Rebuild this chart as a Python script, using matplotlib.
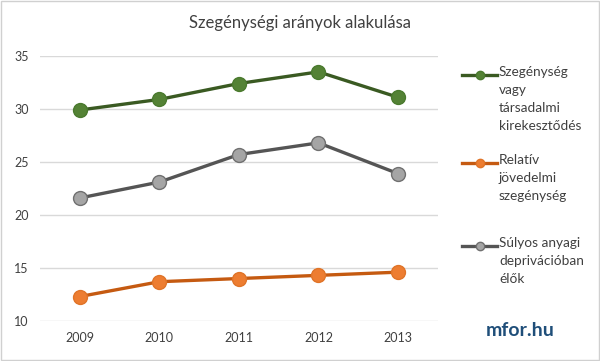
import matplotlib
matplotlib.use("Agg")
import matplotlib.pyplot as plt
from matplotlib.lines import Line2D
from matplotlib.patches import Rectangle

plt.rcParams['font.family'] = ['Lato', 'DejaVu Sans']

years = ["2009", "2010", "2011", "2012", "2013"]
kirekesztodes = [29.9, 30.9, 32.4, 33.5, 31.1]
relativ = [12.3, 13.7, 14.0, 14.3, 14.6]
deprivacio = [21.6, 23.1, 25.7, 26.8, 23.9]

labels = ["Szegénység\nvagy\ntársadalmi\nkirekesztődés",
          "Relatív\njövedelmi\nszegénység",
          "Súlyos anyagi\ndeprivációban\nélők"]

# line colour, marker colour, marker edge
styles = [("#3a5a22", "#548235", "#4a7a2e"),
          ("#c55a11", "#ed7d31", "#e07428"),
          ("#555555", "#a5a5a5", "#707070")]

fig = plt.figure(figsize=(6, 3.61), dpi=100)
ax = fig.add_axes([0.0667, 0.111, 0.663, 0.734])

x = range(len(years))
for vals, (lc, mc, me) in zip([kirekesztodes, relativ, deprivacio], styles):
    ax.plot(x, vals, color=lc, lw=2.4, marker="o", ms=10,
            markerfacecolor=mc, markeredgecolor=me, markeredgewidth=1, zorder=3)

ax.set_xlim(-0.5, 4.5)
ax.set_ylim(10, 35)
ax.set_yticks([10, 15, 20, 25, 30, 35])
ax.set_xticks(list(x))
ax.set_xticklabels(years)
ax.yaxis.grid(True, color="#d9d9d9", lw=1)
ax.set_axisbelow(True)
for s in ax.spines.values():
    s.set_visible(False)
ax.tick_params(length=0, labelsize=9, colors="#404040", pad=8)

fig.text(0.5, 0.935, "Szegénységi arányok alakulása", ha="center", va="center",
         fontsize=12, color="#404040")

# legend drawn by hand, handle next to first line of each label
tops = [75, 163, 246]
for lab, (lc, mc, me), ty in zip(labels, styles, tops):
    yf = 1 - ty / 361
    fig.add_artist(Line2D([462 / 600, 497 / 600], [yf, yf], color=lc, lw=2.4,
                          transform=fig.transFigure))
    fig.add_artist(Line2D([479.5 / 600], [yf], marker="o", ms=6, color=mc,
                          markeredgecolor=me, transform=fig.transFigure))
    fig.text(499 / 600, yf + 0.024, lab, ha="left", va="top", fontsize=9.8,
             color="#404040", linespacing=1.6)

fig.text(520 / 600, 1 - 331 / 361, "mfor.hu", ha="center", va="center",
         fontsize=14, fontweight="bold", color="#1f4e79")

fig.add_artist(Rectangle((0.002, 0.003), 0.996, 0.994, transform=fig.transFigure,
                         fill=False, edgecolor="#d0d0d0", lw=1))

fig.savefig("out.png", dpi=100)
